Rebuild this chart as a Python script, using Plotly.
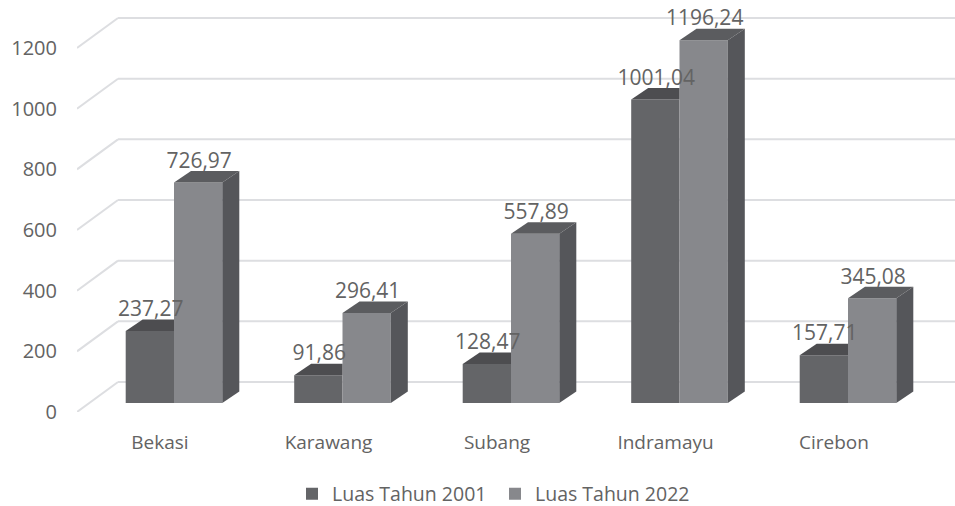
import plotly.graph_objects as go

categories = ["Bekasi", "Karawang", "Subang", "Indramayu", "Cirebon"]
series_names = ["Luas Tahun 2001", "Luas Tahun 2022"]
luas_2001 = [237.27, 91.86, 128.47, 1001.04, 157.71]
luas_2022 = [726.97, 296.41, 557.89, 1196.24, 345.08]
y_ticks = [0, 200, 400, 600, 800, 1000, 1200]

W, H = 955, 506
ML, MB = 77, 94
CAT0 = 174
PX_PER_CAT = 168.5
PX_PER_UNIT = 0.3033
X0 = -(CAT0 - ML) / PX_PER_CAT
X1 = (W - CAT0) / PX_PER_CAT
Y1 = (H - MB) / PX_PER_UNIT

to_x = lambda px: px / PX_PER_CAT
to_y = lambda px: px / PX_PER_UNIT

BAR_W = to_x(48.3)
BASE = to_y(9)          # height of the bar fronts on the sloped floor
DEPTH_X, DEPTH_Y = to_x(17), to_y(11.5)   # bar depth
WALL_X, WALL_Y = to_x(41), to_y(30)       # floor / side wall depth
LABEL_UP = to_y(20)

FRONT = ["#646568", "#87888c"]
TOP = ["#4d4d50", "#5b5c5f"]
SIDE = "#55565a"
GRID = "#dddee1"
TEXT = "#636363"
FONT = "Open Sans"

fig = go.Figure()

# front faces
for s, (name, vals) in enumerate(zip(series_names, [luas_2001, luas_2022])):
    fig.add_trace(go.Bar(
        x=list(range(len(categories))), y=vals, base=BASE, name=name,
        width=BAR_W, offset=-BAR_W if s == 0 else 0,
        marker=dict(color=FRONT[s], line=dict(width=0)),
    ))

# top faces (first series stops where the second series' front begins)
for s, vals in enumerate([luas_2001, luas_2022]):
    for i, v in enumerate(vals):
        left = i - BAR_W if s == 0 else i
        top = v + BASE
        if s == 0:
            xs = [left, i, i, left + DEPTH_X, left]
            ys = [top, top, top + DEPTH_Y, top + DEPTH_Y, top]
        else:
            xs = [left, i + BAR_W, i + BAR_W + DEPTH_X, left + DEPTH_X, left]
            ys = [top, top, top + DEPTH_Y, top + DEPTH_Y, top]
        fig.add_trace(go.Scatter(x=xs, y=ys, mode="lines", fill="toself",
                                 fillcolor=TOP[s], line=dict(width=0),
                                 showlegend=False, hoverinfo="skip"))

# side faces
for i, v in enumerate(luas_2022):
    r = i + BAR_W
    xs = [r, r + DEPTH_X, r + DEPTH_X, r, r]
    ys = [BASE, BASE + DEPTH_Y, v + BASE + DEPTH_Y, v + BASE, BASE]
    fig.add_trace(go.Scatter(x=xs, y=ys, mode="lines", fill="toself",
                             fillcolor=SIDE, line=dict(width=0),
                             showlegend=False, hoverinfo="skip"))

# data labels
for s, vals in enumerate([luas_2001, luas_2022]):
    xs = [i + (-BAR_W / 2 if s == 0 else BAR_W / 2) + to_x(1) for i in range(len(vals))]
    fig.add_trace(go.Scatter(
        x=xs, y=[v + BASE + LABEL_UP for v in vals], mode="text",
        text=[f"{v:.2f}".replace(".", ",") for v in vals],
        textposition="middle center", cliponaxis=False,
        textfont=dict(family=FONT, size=21, color=TEXT),
        showlegend=False, hoverinfo="skip",
    ))

# grid: floor/side diagonal plus back wall line, below the bars
shapes = []
for t in y_ticks:
    for (xa, ya, xb, yb) in [(X0, t, X0 + WALL_X, t + WALL_Y),
                             (X0 + WALL_X, t + WALL_Y, X1, t + WALL_Y)]:
        shapes.append(dict(type="line", layer="below", x0=xa, y0=ya, x1=xb, y1=yb,
                           line=dict(color=GRID, width=2)))

fig.update_layout(
    width=W, height=H, autosize=False,
    margin=dict(l=ML, r=0, t=0, b=MB),
    paper_bgcolor="white", plot_bgcolor="white",
    barmode="overlay", shapes=shapes,
    font=dict(family=FONT, color=TEXT),
    xaxis=dict(range=[X0, X1], tickvals=list(range(len(categories))), ticktext=categories,
               showgrid=False, zeroline=False, showline=False, ticks="",
               tickfont=dict(family=FONT, size=19, color=TEXT),
               ticklabelshift=-14, ticklabelstandoff=17),
    yaxis=dict(range=[0, Y1], tickvals=y_ticks, showgrid=False, zeroline=False,
               showline=False, ticks="", tickfont=dict(family=FONT, size=20, color=TEXT),
               ticklabelstandoff=19),
    legend=dict(orientation="h", xref="container", yref="container",
                x=292 / W, xanchor="left",
                y=(H - 494) / H, yanchor="middle",
                entrywidth=158, entrywidthmode="pixels",
                font=dict(family=FONT, size=19.5, color=TEXT),
                bgcolor="rgba(0,0,0,0)"),
)

fig.write_html("out.html", config={"displayModeBar": False},
               post_script="document.body.style.margin = '0';")
